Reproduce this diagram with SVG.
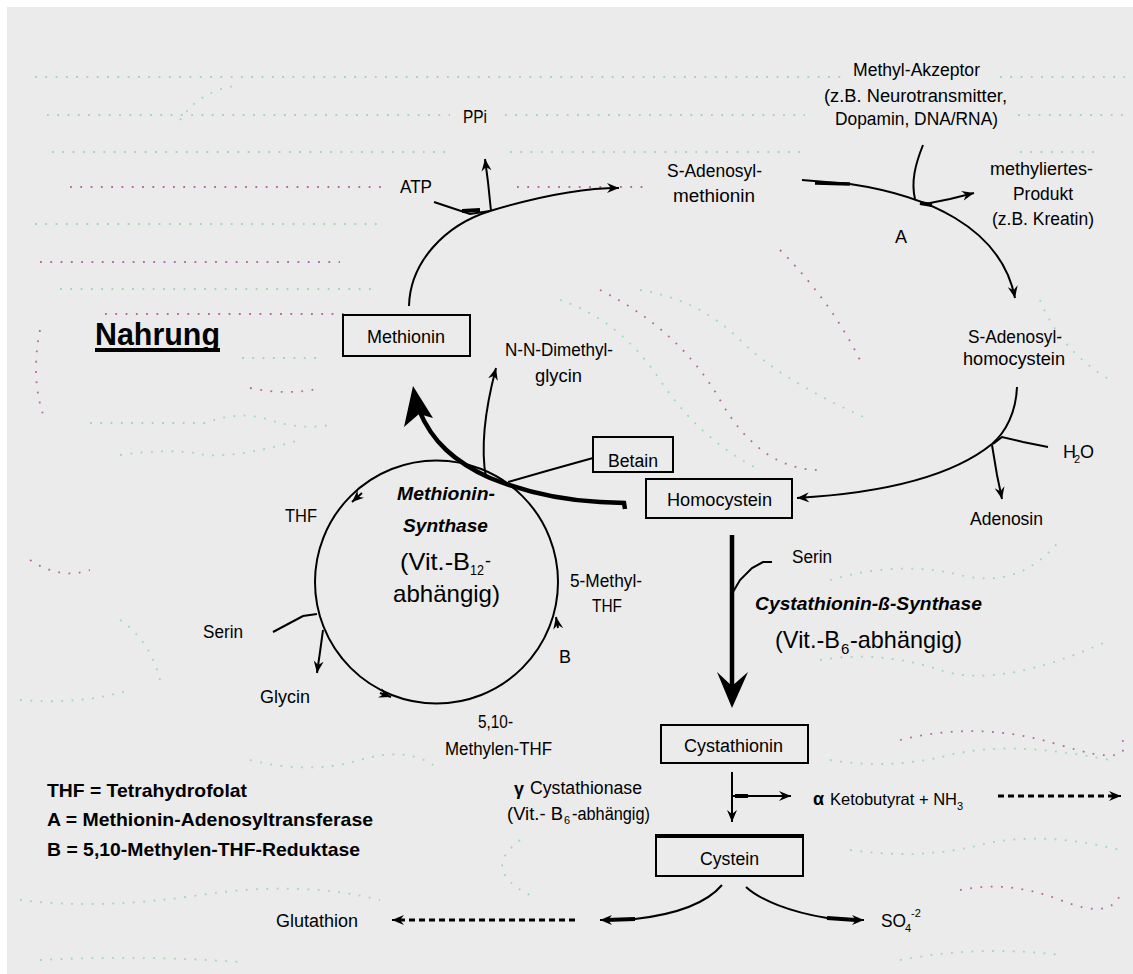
<svg xmlns="http://www.w3.org/2000/svg" width="1133" height="974" viewBox="0 0 1133 974">
<style>
.t{font-family:"Liberation Sans",Arial,sans-serif;font-size:18px;fill:#000}
.bi{font-family:"Liberation Sans",Arial,sans-serif;font-size:19px;font-weight:bold;font-style:italic;fill:#000}
.big{font-family:"Liberation Sans",Arial,sans-serif;font-size:24px;fill:#000}
.lg{font-family:"Liberation Sans",Arial,sans-serif;font-size:19px;font-weight:bold;fill:#000}
.sub{font-family:"Liberation Sans",Arial,sans-serif;font-size:11px;fill:#000}
.box{fill:none;stroke:#000;stroke-width:2}
.ln{fill:none;stroke:#000;stroke-width:2}
.thk{fill:none;stroke:#000;stroke-width:4.5}
.dash{fill:none;stroke:#000;stroke-width:3;stroke-dasharray:6 4}
.dg{fill:none;stroke:#8fd8a8;stroke-width:1.8;stroke-dasharray:1.8 8.5}
.dm{fill:none;stroke:#b0509a;stroke-width:1.8;stroke-dasharray:1.8 8.5}
</style>
<defs>
<marker id="ah" markerUnits="userSpaceOnUse" markerWidth="13" markerHeight="11" viewBox="-12 -5.5 13 11" refX="0" refY="0" orient="auto">
<path d="M0,0 L-12,-5 L-8,0 L-12,5 Z" fill="#000"/>
</marker>
</defs>
<rect x="0" y="0" width="1133" height="974" fill="#ffffff"/>
<rect x="7" y="7" width="1126" height="967" fill="#ebebeb"/>

<g id="background-dots" opacity="0.85">
<path class="dg" d="M35,77 H845 M1000,77 H1125"/>
<path class="dg" d="M47,115 H450 M505,115 H805 M1018,115 H1125"/>
<path class="dg" d="M52,152 H448 M510,152 H800 M1020,152 H1100"/>
<path class="dm" d="M70,187 H387 M517,187 H645"/>
<path class="dg" d="M35,224 H380"/>
<path class="dm" d="M40,262 H340"/>
<path class="dg" d="M60,289 H377"/>
<path class="dm" d="M105,314 H347"/>
<path class="dg" d="M242,358 H322"/>
<path class="dg" d="M90,423 H205 Q240,410 270,420 T330,425"/>
<path class="dm" d="M250,388 Q290,396 320,388"/>
<path class="dg" d="M120,455 Q170,448 200,454 T300,440"/>
<path class="dm" d="M40,330 Q30,380 45,420"/>
<path class="dg" d="M560,300 Q620,320 660,380 T760,470"/>
<path class="dm" d="M600,290 Q680,330 720,400 T820,470"/>
<path class="dg" d="M640,290 Q700,300 740,340 T870,420"/>
<path class="dm" d="M780,250 Q830,300 860,360"/>
<path class="dg" d="M1040,300 Q1060,350 1110,380"/>
<path class="dg" d="M830,580 Q900,560 960,575 T1060,540"/>
<path class="dg" d="M820,660 Q880,650 940,670 T1110,640"/>
<path class="dg" d="M830,760 Q890,770 950,755 T1110,760"/>
<path class="dm" d="M900,740 Q980,720 1060,745 T1120,735"/>
<path class="dg" d="M850,850 Q920,860 980,845 T1120,850"/>
<path class="dm" d="M960,890 Q1010,880 1060,900 T1120,895"/>
<path class="dg" d="M900,960 Q980,945 1060,955"/>
<path class="dg" d="M20,900 Q100,910 200,895 T380,900"/>
<path class="dg" d="M40,960 Q140,955 240,962"/>
<path class="dg" d="M250,760 Q310,775 360,760 T440,770"/>
<path class="dg" d="M20,700 Q80,705 130,690"/>
<path class="dm" d="M30,560 Q60,580 90,570"/>
<path class="dg" d="M120,620 Q150,640 160,680"/>
<path class="dg" d="M520,840 Q480,870 530,895"/>
<path class="dg" d="M180,120 Q200,90 240,85"/>
</g>

<g id="connectors">
<path class="ln" d="M409,306 C410,262 445,225 490,211 C540,196 580,188 619,188" marker-end="url(#ah)"/>
<path class="ln" d="M434,202 L452,208 L470,214 L490,211"/>
<path d="M462,211 L480,210" stroke="#000" stroke-width="4"/>
<path class="ln" d="M491,211 L488,182 L485,159" marker-end="url(#ah)"/>
<path class="ln" d="M802,180 L850,184 C890,190 925,200 955,218 C985,236 1008,262 1015,298" marker-end="url(#ah)"/>
<path d="M815,183 L850,184" stroke="#000" stroke-width="3.5"/>
<path class="ln" d="M923,145 C915,165 911,182 915,199"/>
<path class="ln" d="M925,204 L950,199 L974,193" marker-end="url(#ah)"/>
<path d="M920,203 L932,205" stroke="#000" stroke-width="4"/>
<path class="ln" d="M1017,387 C1016,412 1006,432 992,444 C960,470 900,492 797,498" marker-end="url(#ah)"/>
<path class="ln" d="M1048,447 L1023,442 L1002,437 L993,444"/>
<path class="ln" d="M992,445 L997,475 L1002,499" marker-end="url(#ah)"/>
<path class="thk" d="M625,509 L624,503 L600,502 C560,500 520,490 490,478 C455,462 432,442 419,410"/>
<polygon points="413,386 404,427 419,414 433,418" fill="#000"/>
<path class="ln" d="M593,458 L550,470 L508,482"/>
<path class="ln" d="M486,478 C480,445 487,402 496,368" marker-end="url(#ah)"/>
<ellipse cx="436.5" cy="582" rx="121.5" ry="121.5" class="ln"/>
<path d="M362,493 L352,502" class="ln" marker-end="url(#ah)"/>
<path d="M380,693 L391,697" class="ln" marker-end="url(#ah)"/>
<path d="M558,628 L556,617" class="ln" marker-end="url(#ah)"/>
<path class="ln" d="M273,632 L303,616 L317,614"/>
<path class="ln" d="M323,630 L320,652 L317,673" marker-end="url(#ah)"/>
<path d="M732,535 L732,690" stroke="#000" stroke-width="4.5" fill="none"/>
<polygon points="732,708 717,672 732,686 748,672" fill="#000"/>
<path class="ln" d="M772,562 L763,562 L752,568 L740,580 L733,592"/>
<path class="ln" d="M732,772 L732,822" marker-end="url(#ah)"/>
<path class="ln" d="M732,796 L791,796" marker-end="url(#ah)"/>
<path d="M735,796 L748,796" stroke="#000" stroke-width="4"/>
<path class="dash" d="M998,796 L1114,796"/>
<path class="ln" d="M1110,796 L1121,796" marker-end="url(#ah)"/>
<path class="ln" d="M722,885 C705,905 670,915 635,919"/>
<path d="M635,919 L606,920" stroke="#000" stroke-width="4" fill="none"/>
<path class="ln" d="M610,920 L600,920" marker-end="url(#ah)"/>
<path class="ln" d="M746,887 C760,900 790,912 827,918"/>
<path d="M827,918 L856,920" stroke="#000" stroke-width="4" fill="none"/>
<path class="ln" d="M853,920 L864,920" marker-end="url(#ah)"/>
<path class="dash" d="M575,920 L399,920"/>
<path class="ln" d="M402,920 L392,920" marker-end="url(#ah)"/>
</g>

<g id="node-methionin">
<rect class="box" x="343" y="315" width="127" height="41"/>
<text class="t" x="367" y="343" textLength="78" lengthAdjust="spacingAndGlyphs">Methionin</text>
</g>
<g id="node-sam">
<text class="t" x="667" y="177" textLength="95" lengthAdjust="spacingAndGlyphs">S-Adenosyl-</text>
<text class="t" x="673" y="202" textLength="82" lengthAdjust="spacingAndGlyphs">methionin</text>
</g>
<g id="node-atp"><text class="t" x="400" y="193" textLength="32" lengthAdjust="spacingAndGlyphs">ATP</text></g>
<g id="node-ppi"><text class="t" x="463" y="123" textLength="24" lengthAdjust="spacingAndGlyphs">PPi</text></g>
<g id="node-akzeptor">
<text class="t" x="853" y="76" textLength="127" lengthAdjust="spacingAndGlyphs">Methyl-Akzeptor</text>
<text class="t" x="824" y="102" textLength="183" lengthAdjust="spacingAndGlyphs">(z.B. Neurotransmitter,</text>
<text class="t" x="835" y="125" textLength="163" lengthAdjust="spacingAndGlyphs">Dopamin, DNA/RNA)</text>
</g>
<g id="node-produkt">
<text class="t" x="990" y="175" textLength="103" lengthAdjust="spacingAndGlyphs">methyliertes-</text>
<text class="t" x="1013" y="200" textLength="60" lengthAdjust="spacingAndGlyphs">Produkt</text>
<text class="t" x="992" y="225" textLength="102" lengthAdjust="spacingAndGlyphs">(z.B. Kreatin)</text>
</g>
<g id="label-a"><text class="t" x="895" y="243">A</text></g>
<g id="node-sah">
<text class="t" x="968" y="343" textLength="94" lengthAdjust="spacingAndGlyphs">S-Adenosyl-</text>
<text class="t" x="963" y="365" textLength="102" lengthAdjust="spacingAndGlyphs">homocystein</text>
</g>
<g id="node-h2o">
<text class="t" x="1063" y="458">H</text>
<text class="sub" x="1074" y="463">2</text>
<text class="t" x="1080" y="458">O</text>
</g>
<g id="node-adenosin"><text class="t" x="970" y="525" textLength="73" lengthAdjust="spacingAndGlyphs">Adenosin</text></g>
<g id="node-nahrung">
<text x="95" y="345" textLength="125" lengthAdjust="spacingAndGlyphs" style="font-family:'Liberation Sans',Arial,sans-serif;font-size:31px;font-weight:bold;fill:#000">Nahrung</text>
<rect x="95" y="348" width="125" height="4" fill="#000"/>
</g>
<g id="node-dimethylglycin">
<text class="t" x="505" y="356" textLength="108" lengthAdjust="spacingAndGlyphs">N-N-Dimethyl-</text>
<text class="t" x="535" y="382" textLength="47" lengthAdjust="spacingAndGlyphs">glycin</text>
</g>
<g id="node-betain">
<rect class="box" x="593" y="437" width="80" height="35"/>
<text class="t" x="608" y="467" textLength="50" lengthAdjust="spacingAndGlyphs">Betain</text>
</g>
<g id="node-homocystein">
<rect class="box" x="646" y="479" width="146" height="39"/>
<text class="t" x="667" y="506" textLength="105" lengthAdjust="spacingAndGlyphs">Homocystein</text>
</g>
<g id="node-methionin-synthase">
<text class="bi" x="397" y="500" textLength="98" lengthAdjust="spacingAndGlyphs">Methionin-</text>
<text class="bi" x="403" y="532" textLength="85" lengthAdjust="spacingAndGlyphs">Synthase</text>
<text class="big" x="400" y="570" textLength="70" lengthAdjust="spacingAndGlyphs">(Vit.-B</text>
<text class="sub" x="470" y="575" style="font-size:15px" textLength="14" lengthAdjust="spacingAndGlyphs">12</text>
<text class="big" x="485" y="567" style="font-size:18px">-</text>
<text class="big" x="393" y="602" textLength="107" lengthAdjust="spacingAndGlyphs">abhängig)</text>
</g>
<g id="node-thf"><text class="t" x="285" y="522" textLength="32" lengthAdjust="spacingAndGlyphs">THF</text></g>
<g id="node-serin-left"><text class="t" x="203" y="638" textLength="40" lengthAdjust="spacingAndGlyphs">Serin</text></g>
<g id="node-glycin"><text class="t" x="260" y="703" textLength="50" lengthAdjust="spacingAndGlyphs">Glycin</text></g>
<g id="node-methylen-thf">
<text class="t" x="478" y="728" textLength="35" lengthAdjust="spacingAndGlyphs">5,10-</text>
<text class="t" x="445" y="755" textLength="107" lengthAdjust="spacingAndGlyphs">Methylen-THF</text>
</g>
<g id="label-b"><text class="t" x="559" y="663">B</text></g>
<g id="node-methyl-thf">
<text class="t" x="570" y="587" textLength="72" lengthAdjust="spacingAndGlyphs">5-Methyl-</text>
<text class="t" x="592" y="612" textLength="30" lengthAdjust="spacingAndGlyphs">THF</text>
</g>
<g id="node-serin-right"><text class="t" x="792" y="563" textLength="40" lengthAdjust="spacingAndGlyphs">Serin</text></g>
<g id="node-cbs">
<text class="bi" x="755" y="610" textLength="227" lengthAdjust="spacingAndGlyphs">Cystathionin-ß-Synthase</text>
<text class="big" x="775" y="648" textLength="65" lengthAdjust="spacingAndGlyphs">(Vit.-B</text>
<text class="sub" x="841" y="654" style="font-size:15px">6</text>
<text class="big" x="850" y="648" textLength="112" lengthAdjust="spacingAndGlyphs">-abhängig)</text>
</g>
<g id="node-cystathionin">
<rect class="box" x="661" y="725" width="147" height="38"/>
<text class="t" x="684" y="752" textLength="99" lengthAdjust="spacingAndGlyphs">Cystathionin</text>
</g>
<g id="node-cystathionase">
<text class="t" x="514" y="795" style="font-weight:bold">γ</text>
<text class="t" x="530" y="794" textLength="112" lengthAdjust="spacingAndGlyphs">Cystathionase</text>
<text class="t" x="507" y="820" textLength="56" lengthAdjust="spacingAndGlyphs">(Vit.- B</text>
<text class="sub" x="564" y="824">6</text>
<text class="t" x="572" y="820" textLength="78" lengthAdjust="spacingAndGlyphs">-abhängig)</text>
</g>
<g id="node-ketobutyrat">
<text class="t" x="813" y="805" style="font-weight:bold">α</text>
<text class="t" x="830" y="805" style="font-size:16.5px">Ketobutyrat + NH<tspan font-size="11" dy="5">3</tspan></text>
</g>
<g id="node-cystein">
<rect class="box" x="656" y="835" width="147" height="41"/>
<rect x="656" y="834" width="147" height="4" fill="#000"/>
<text class="t" x="700" y="865" textLength="59" lengthAdjust="spacingAndGlyphs">Cystein</text>
</g>
<g id="node-glutathion"><text class="t" x="276" y="927" textLength="82" lengthAdjust="spacingAndGlyphs">Glutathion</text></g>
<g id="node-so4">
<text class="t" x="881" y="927" textLength="25" lengthAdjust="spacingAndGlyphs">SO</text>
<text class="sub" x="905" y="932">4</text>
<text class="sub" x="911" y="917">-2</text>
</g>
<g id="legend">
<text class="lg" x="47" y="797" textLength="200" lengthAdjust="spacingAndGlyphs">THF = Tetrahydrofolat</text>
<text class="lg" x="47" y="826" textLength="326" lengthAdjust="spacingAndGlyphs">A = Methionin-Adenosyltransferase</text>
<text class="lg" x="47" y="856" textLength="313" lengthAdjust="spacingAndGlyphs">B = 5,10-Methylen-THF-Reduktase</text>
</g>
</svg>
